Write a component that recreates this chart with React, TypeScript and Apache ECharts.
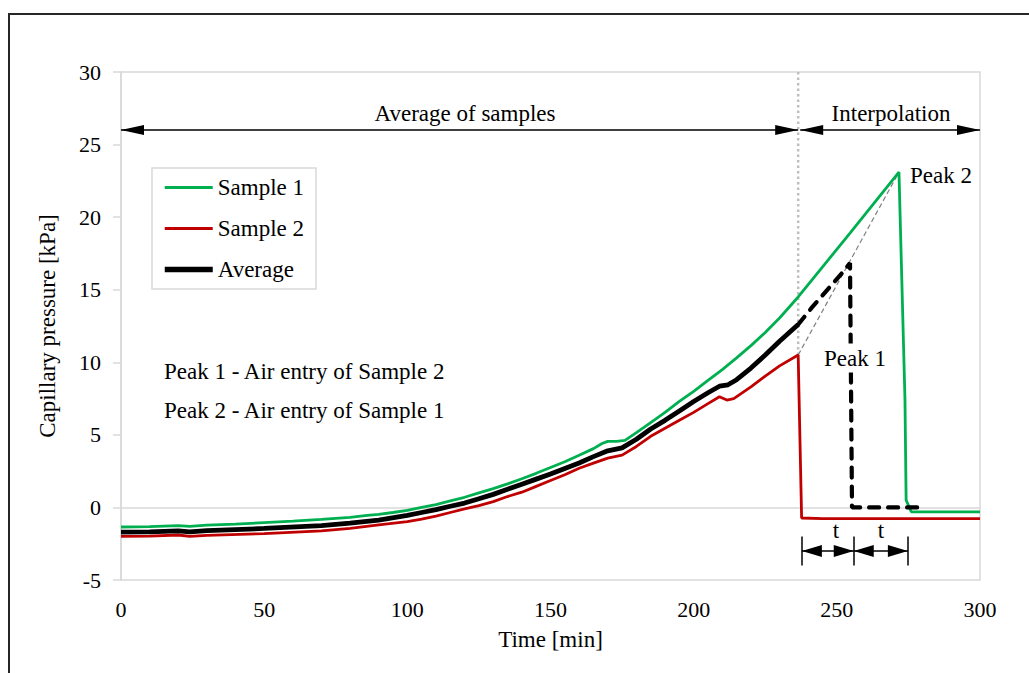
import React, { useEffect, useRef } from "react";
import * as echarts from "echarts";

// Time [min], Capillary pressure [kPa]
const sample1: [number, number][] = [
  [0, -1.35], [10, -1.32], [20, -1.25], [24, -1.3], [30, -1.22], [40, -1.15],
  [50, -1.05], [60, -0.95], [70, -0.82], [80, -0.68], [86, -0.55], [90, -0.48],
  [95, -0.35], [100, -0.2], [105, 0.0], [110, 0.2], [115, 0.45], [120, 0.7],
  [125, 1.0], [130, 1.3], [135, 1.62], [140, 1.98], [145, 2.35], [150, 2.75],
  [155, 3.15], [160, 3.6], [165, 4.05], [168, 4.4], [170, 4.55], [173, 4.55],
  [176, 4.62], [180, 5.15], [185, 5.85], [190, 6.55], [195, 7.3], [200, 8.0],
  [205, 8.75], [210, 9.5], [215, 10.3], [220, 11.15], [225, 12.05], [230, 13.05],
  [236.5, 14.5], [254.6, 18.9], [271.7, 23.1], [273.8, 7.4], [274.2, 0.5],
  [276, -0.3], [300, -0.3],
];

const sample2: [number, number][] = [
  [0, -2.0], [10, -1.98], [20, -1.9], [24, -2.0], [30, -1.92], [50, -1.8],
  [70, -1.62], [80, -1.45], [90, -1.2], [100, -0.98], [105, -0.8], [110, -0.6],
  [115, -0.35], [120, -0.1], [125, 0.12], [130, 0.4], [135, 0.75], [140, 1.05],
  [145, 1.45], [150, 1.85], [155, 2.25], [160, 2.7], [165, 3.05], [170, 3.4],
  [175, 3.6], [180, 4.2], [185, 4.9], [190, 5.45], [195, 6.0], [200, 6.55],
  [205, 7.15], [209, 7.63], [211.6, 7.4], [214, 7.5], [220, 8.3], [225, 9.05],
  [230, 9.75], [236.5, 10.5], [237.7, -0.73], [245, -0.77], [300, -0.77],
];

const averageSolid: [number, number][] = [
  [0, -1.7], [10, -1.68], [20, -1.62], [24, -1.68], [30, -1.6], [50, -1.45],
  [70, -1.25], [80, -1.08], [90, -0.87], [100, -0.55], [105, -0.35], [110, -0.15],
  [115, 0.08], [120, 0.3], [125, 0.6], [130, 0.9], [135, 1.25], [140, 1.6],
  [145, 1.95], [150, 2.3], [155, 2.68], [160, 3.06], [165, 3.5], [170, 3.9],
  [175, 4.1], [180, 4.7], [185, 5.4], [190, 6.0], [195, 6.65], [200, 7.3],
  [205, 7.9], [209, 8.35], [212, 8.45], [215, 8.8], [220, 9.6], [225, 10.5],
  [230, 11.45], [236.5, 12.6],
];

const averageDashed: [number, number][] = [
  [236.5, 12.6], [241.4, 13.8], [247.6, 15.2], [252.2, 16.24], [254.6, 16.84],
  [255.3, 0], [280, 0],
];

const interpolation: [number, number][] = [[236.5, 10.5], [271.7, 23.1]];
const divider: [number, number][] = [[236.5, 30], [236.5, 10.5]];

// annotation positions (data units)
const rangeArrowY = 26;
const averageRange: [number, number] = [0, 236.5];
const interpolationRange: [number, number] = [237.2, 300];
const tMarkers: number[] = [237.8, 255.9, 274.8];
const tArrowY = -3;
const tBar: [number, number] = [-2, -4];

const FONT = "Liberation Serif";

function arrow(x1: number, x2: number, y: number, size: [number, number]) {
  const end = { symbol: "triangle", symbolSize: size, symbolOffset: [0, size[1] / 2] };
  return [
    { coord: [x1, y], ...end },
    { coord: [x2, y], ...end },
  ];
}

function bar(x: number) {
  return [
    { coord: [x, tBar[0]], symbol: "none" },
    { coord: [x, tBar[1]], symbol: "none" },
  ];
}

export default function App() {
  const ref = useRef<HTMLDivElement>(null);
  useEffect(() => {
    if (!ref.current) return;
    const chart = echarts.init(ref.current, null, { renderer: "svg" });
    const markData: any[] = [
      arrow(averageRange[0], averageRange[1], rangeArrowY, [10, 23]),
      arrow(interpolationRange[0], interpolationRange[1], rangeArrowY, [10, 23]),
      arrow(tMarkers[0], tMarkers[1], tArrowY, [12, 20]),
      arrow(tMarkers[1], tMarkers[2], tArrowY, [12, 20]),
      ...tMarkers.map(bar),
    ];
    chart.setOption({
      animation: false,
      textStyle: { fontFamily: FONT, color: "#000" },
      grid: {
        left: 121, top: 72, right: 49, bottom: 93,
        show: true, borderColor: "#d9d9d9", borderWidth: 1.5,
      },
      legend: {
        data: [
          { name: "Sample 1", lineStyle: { width: 3 } },
          { name: "Sample 2", lineStyle: { width: 3 } },
          { name: "Average", lineStyle: { width: 5.5 } },
        ],
        orient: "vertical",
        left: 152, top: 168,
        itemWidth: 48, itemHeight: 14, itemGap: 18,
        padding: [8, 12, 8, 10],
        borderColor: "#d9d9d9", borderWidth: 1.5,
        backgroundColor: "#fff",
        itemStyle: { opacity: 0 },
        textStyle: { fontSize: 23, color: "#000", fontFamily: FONT },
      },
      xAxis: {
        type: "value", min: 0, max: 300, interval: 50,
        name: "Time [min]", nameLocation: "middle", nameGap: 48,
        nameTextStyle: { fontSize: 23, fontFamily: FONT, color: "#000" },
        axisLine: { show: false, onZero: false },
        axisTick: { show: false },
        splitLine: { show: false },
        axisLabel: { fontSize: 22, color: "#000", margin: 18, fontFamily: FONT },
      },
      yAxis: {
        type: "value", min: -5, max: 30, interval: 5,
        name: "Capillary pressure [kPa]", nameLocation: "middle", nameGap: 62,
        nameTextStyle: { fontSize: 23, fontFamily: FONT, color: "#000" },
        axisLine: { show: true, lineStyle: { color: "#d9d9d9", width: 1.5 } },
        axisTick: { show: true, length: 8, lineStyle: { color: "#d9d9d9", width: 1.5 } },
        splitLine: { show: false },
        axisLabel: { fontSize: 22, color: "#000", margin: 20, fontFamily: FONT },
      },
      series: [
        {
          name: "zero", type: "line", data: [], symbol: "none", silent: true, z: 0,
          markLine: {
            silent: true, symbol: "none", label: { show: false }, z: 0,
            lineStyle: { color: "#d9d9d9", width: 1.5, type: "solid" },
            data: [{ yAxis: 0 }],
          },
        },
        {
          name: "divider", type: "line", data: divider, symbol: "none", silent: true,
          lineStyle: { color: "#bfbfbf", width: 2.5, type: [2.5, 3] }, z: 1,
        },
        {
          name: "interpolation", type: "line", data: interpolation, symbol: "none", silent: true,
          lineStyle: { color: "#808080", width: 1.2, type: [5, 3] }, z: 1,
          markLine: {
            silent: true, animation: false,
            label: { show: false },
            lineStyle: { color: "#000", width: 1.5, type: "solid" },
            itemStyle: { color: "#000" },
            data: markData,
          },
        },
        {
          name: "Sample 1", type: "line", data: sample1, symbol: "none",
          color: "#00b050", lineStyle: { color: "#00b050", width: 2.8 }, z: 3,
        },
        {
          name: "Sample 2", type: "line", data: sample2, symbol: "none",
          color: "#c00000", lineStyle: { color: "#c00000", width: 2.8 }, z: 3,
        },
        {
          name: "Average", type: "line", data: averageSolid, symbol: "none",
          color: "#000", lineStyle: { color: "#000", width: 4.8 }, z: 4,
        },
        {
          name: "Average (interpolated)", type: "line", data: averageDashed, symbol: "none",
          color: "#000", lineStyle: { color: "#000", width: 4.2, type: [10, 9], cap: "round" }, z: 6,
        },
      ],
      graphic: [
        {
          type: "rect", silent: true, z: 0,
          shape: { x: 9, y: 14, width: 1200, height: 900 },
          style: { fill: "none", stroke: "#262626", lineWidth: 2 },
        },
        { type: "text", x: 465, y: 113, z: 100, style: { text: "Average of samples", fontSize: 23, fontFamily: FONT, fill: "#000", align: "center", verticalAlign: "middle" } },
        { type: "text", x: 891, y: 113, z: 100, style: { text: "Interpolation", fontSize: 23, fontFamily: FONT, fill: "#000", align: "center", verticalAlign: "middle" } },
        { type: "text", x: 910, y: 175, z: 100, style: { text: "Peak 2", fontSize: 23, fontFamily: FONT, fill: "#000", align: "left", verticalAlign: "middle" } },
        { type: "text", x: 855, y: 358, z: 100, style: { text: "Peak 1", fontSize: 23, fontFamily: FONT, fill: "#000", align: "center", verticalAlign: "middle", backgroundColor: "#fff", padding: [3, 2] } },
        { type: "text", x: 164, y: 371, z: 100, style: { text: "Peak 1 - Air entry of Sample 2", fontSize: 23, fontFamily: FONT, fill: "#000", align: "left", verticalAlign: "middle" } },
        { type: "text", x: 164, y: 410, z: 100, style: { text: "Peak 2 - Air entry of Sample 1", fontSize: 23, fontFamily: FONT, fill: "#000", align: "left", verticalAlign: "middle" } },
        { type: "text", x: 836, y: 530, z: 100, style: { text: "t", fontSize: 23, fontFamily: FONT, fill: "#000", align: "center", verticalAlign: "middle" } },
        { type: "text", x: 881, y: 530, z: 100, style: { text: "t", fontSize: 23, fontFamily: FONT, fill: "#000", align: "center", verticalAlign: "middle" } },
      ],
    });
    return () => chart.dispose();
  }, []);
  return (
    <div
      ref={ref}
      style={{ position: "fixed", left: 0, top: 0, width: 1029, height: 673, background: "#fff" }}
    />
  );
}
